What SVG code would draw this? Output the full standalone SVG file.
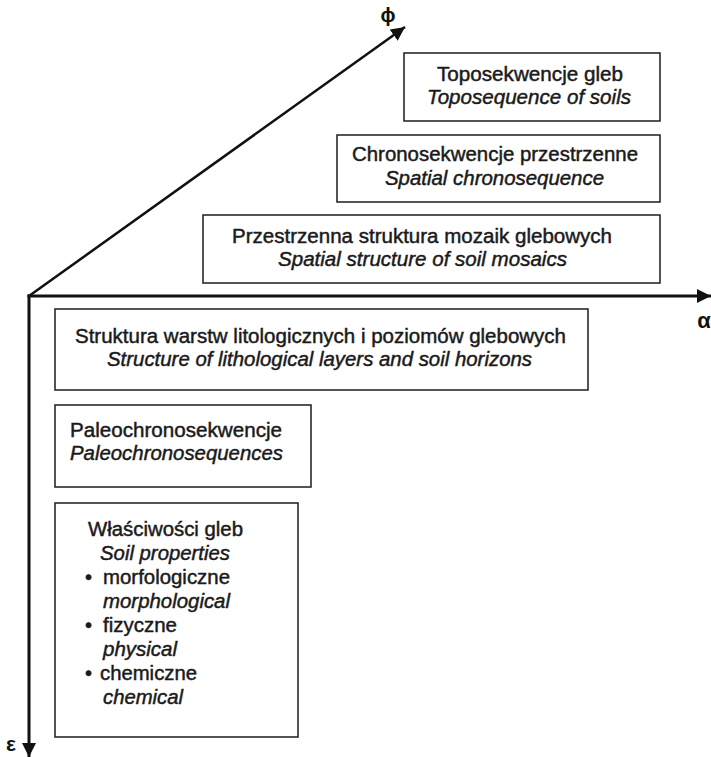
<svg xmlns="http://www.w3.org/2000/svg" width="711" height="757" viewBox="0 0 711 757">
<style>
.box{fill:#fff;stroke:#2a2a2a;stroke-width:1.6}
.t{font-family:"Liberation Sans",Arial,sans-serif;font-size:20px;fill:#1a1a1a;stroke:#1a1a1a;stroke-width:0.45}
.i{font-style:italic}
.c{text-anchor:middle}
.ax{stroke:#111;fill:none}
.lab{font-family:"Liberation Sans",Arial,sans-serif;font-weight:bold;fill:#111;text-anchor:middle}
</style>
<defs>
<marker id="ah" markerUnits="userSpaceOnUse" markerWidth="16" markerHeight="14" refX="14" refY="7" orient="auto">
<path d="M0,0 L14,7 L0,14 Z" fill="#111"/>
</marker>
</defs>
<rect width="711" height="757" fill="#fff"/>
<g id="connectors">
<line class="ax" x1="29" y1="296" x2="405" y2="27" stroke-width="2.5" marker-end="url(#ah)"/>
<line class="ax" x1="27.5" y1="296" x2="711" y2="296" stroke-width="3" marker-end="url(#ah)"/>
<line class="ax" x1="29" y1="294.5" x2="29" y2="757" stroke-width="3" marker-end="url(#ah)"/>
</g>
<g id="axis-labels">
<text class="lab" x="388" y="22" font-size="20">ϕ</text>
<text class="lab" x="704" y="328" font-size="22">α</text>
<text class="lab" x="11" y="751" font-size="21">ε</text>
</g>
<g id="toposekwencje">
<rect class="box" x="404" y="53" width="256" height="68"/>
<text class="t c" x="530" y="81" textLength="186" lengthAdjust="spacingAndGlyphs">Toposekwencje gleb</text>
<text class="t c i" x="529" y="104" textLength="204" lengthAdjust="spacingAndGlyphs">Toposequence of soils</text>
</g>
<g id="chronosekwencje">
<rect class="box" x="337" y="135" width="323" height="67"/>
<text class="t c" x="495" y="161" textLength="286" lengthAdjust="spacingAndGlyphs">Chronosekwencje przestrzenne</text>
<text class="t c i" x="494.5" y="185" textLength="219" lengthAdjust="spacingAndGlyphs">Spatial chronosequence</text>
</g>
<g id="przestrzenna">
<rect class="box" x="203" y="215" width="457" height="68"/>
<text class="t c" x="422" y="243" textLength="380" lengthAdjust="spacingAndGlyphs">Przestrzenna struktura mozaik glebowych</text>
<text class="t c i" x="422.5" y="266" textLength="289" lengthAdjust="spacingAndGlyphs">Spatial structure of soil mosaics</text>
</g>
<g id="struktura">
<rect class="box" x="55" y="309" width="533" height="81"/>
<text class="t c" x="320.5" y="343" textLength="491" lengthAdjust="spacingAndGlyphs">Struktura warstw litologicznych i poziomów glebowych</text>
<text class="t c i" x="319.5" y="366" textLength="425" lengthAdjust="spacingAndGlyphs">Structure of lithological layers and soil horizons</text>
</g>
<g id="paleo">
<rect class="box" x="55" y="405" width="256" height="82"/>
<text class="t" x="70" y="437" textLength="212" lengthAdjust="spacingAndGlyphs">Paleochronosekwencje</text>
<text class="t i" x="70" y="460" textLength="213" lengthAdjust="spacingAndGlyphs">Paleochronosequences</text>
</g>
<g id="wlasciwosci">
<rect class="box" x="55" y="503" width="243" height="234"/>
<text class="t" x="88" y="536" textLength="155" lengthAdjust="spacingAndGlyphs">Właściwości gleb</text>
<text class="t i" x="100" y="560" textLength="130" lengthAdjust="spacingAndGlyphs">Soil properties</text>
<text class="t" x="85" y="584">•</text>
<text class="t" x="103" y="584" textLength="127" lengthAdjust="spacingAndGlyphs">morfologiczne</text>
<text class="t i" x="103" y="608" textLength="127" lengthAdjust="spacingAndGlyphs">morphological</text>
<text class="t" x="85" y="632">•</text>
<text class="t" x="103" y="632" textLength="74" lengthAdjust="spacingAndGlyphs">fizyczne</text>
<text class="t i" x="103" y="656" textLength="74" lengthAdjust="spacingAndGlyphs">physical</text>
<text class="t" x="85" y="680">•</text>
<text class="t" x="100" y="680" textLength="97" lengthAdjust="spacingAndGlyphs">chemiczne</text>
<text class="t i" x="103" y="704" textLength="80" lengthAdjust="spacingAndGlyphs">chemical</text>
</g>
</svg>
